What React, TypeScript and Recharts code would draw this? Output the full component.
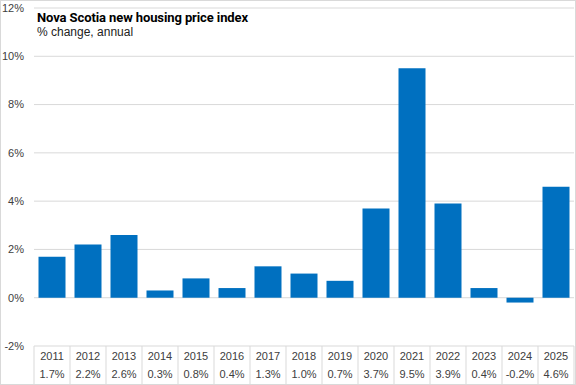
import { BarChart, Bar, XAxis, YAxis, CartesianGrid } from 'recharts';

const years = ['2011', '2012', '2013', '2014', '2015', '2016', '2017', '2018', '2019', '2020', '2021', '2022', '2023', '2024', '2025'];
const change = [1.7, 2.2, 2.6, 0.3, 0.8, 0.4, 1.3, 1.0, 0.7, 3.7, 9.5, 3.9, 0.4, -0.2, 4.6];
const yTicks = [-2, 0, 2, 4, 6, 8, 10, 12];

const data = years.map((year, i) => ({ year, change: change[i] }));

const W = 576;
const H = 385;
const Y_AXIS_W = 34;
const RIGHT = 2;
const TABLE_H = 39;
const band = (W - Y_AXIS_W - RIGHT) / years.length;
const tableTop = H - TABLE_H;

const font = '"Liberation Sans", Arial, sans-serif';
const grid = '#d9d9d9';
const text = '#404040';

function TableTick(props: any) {
  const { x, payload } = props;
  const i = payload.index;
  const v = change[i];
  return (
    <g>
      <line x1={x - band / 2} x2={x - band / 2} y1={tableTop} y2={H} stroke={grid} />
      {i === years.length - 1 && (
        <line x1={x + band / 2} x2={x + band / 2} y1={tableTop} y2={H} stroke={grid} />
      )}
      <text x={x} y={tableTop + 14} textAnchor="middle" fontSize={11} fill={text} fontFamily={font}>
        {payload.value}
      </text>
      <text x={x} y={tableTop + 32} textAnchor="middle" fontSize={11} fill={text} fontFamily={font}>
        {v.toFixed(1)}%
      </text>
    </g>
  );
}

export default function App() {
  return (
    <div style={{ position: 'absolute', left: 0, top: 0, width: W, height: H, background: '#fff' }}>
      <BarChart
        width={W}
        height={H}
        data={data}
        margin={{ top: 8, right: RIGHT, bottom: 0, left: 0 }}
        barCategoryGap="12.5%"
      >
        <CartesianGrid vertical={false} stroke={grid} />
        <YAxis
          width={Y_AXIS_W}
          domain={[-2, 12]}
          ticks={yTicks}
          axisLine={false}
          tickLine={false}
          tickMargin={4}
          tickFormatter={(v: number) => `${v}%`}
          tick={{ fontSize: 11, fill: text, fontFamily: font }}
          interval={0}
        />
        <XAxis
          dataKey="year"
          height={TABLE_H}
          axisLine={false}
          tickLine={false}
          interval={0}
          tick={<TableTick />}
        />
        <Bar dataKey="change" fill="#0070C0" isAnimationActive={false} />
      </BarChart>
      <div
        style={{
          position: 'absolute',
          left: 37,
          top: 11,
          fontFamily: 'Roboto, sans-serif',
          color: '#000',
          lineHeight: 1,
        }}
      >
        <div style={{ fontSize: 13, fontWeight: 700, letterSpacing: -0.1 }}>Nova Scotia new housing price index</div>
        <div style={{ fontSize: 12, marginTop: 2, color: '#222', fontFamily: font }}>% change, annual</div>
      </div>
      <div
        style={{
          position: 'absolute',
          left: 0,
          top: 0,
          width: W - 2,
          height: H - 2,
          border: `1px solid ${grid}`,
          pointerEvents: 'none',
        }}
      />
    </div>
  );
}
